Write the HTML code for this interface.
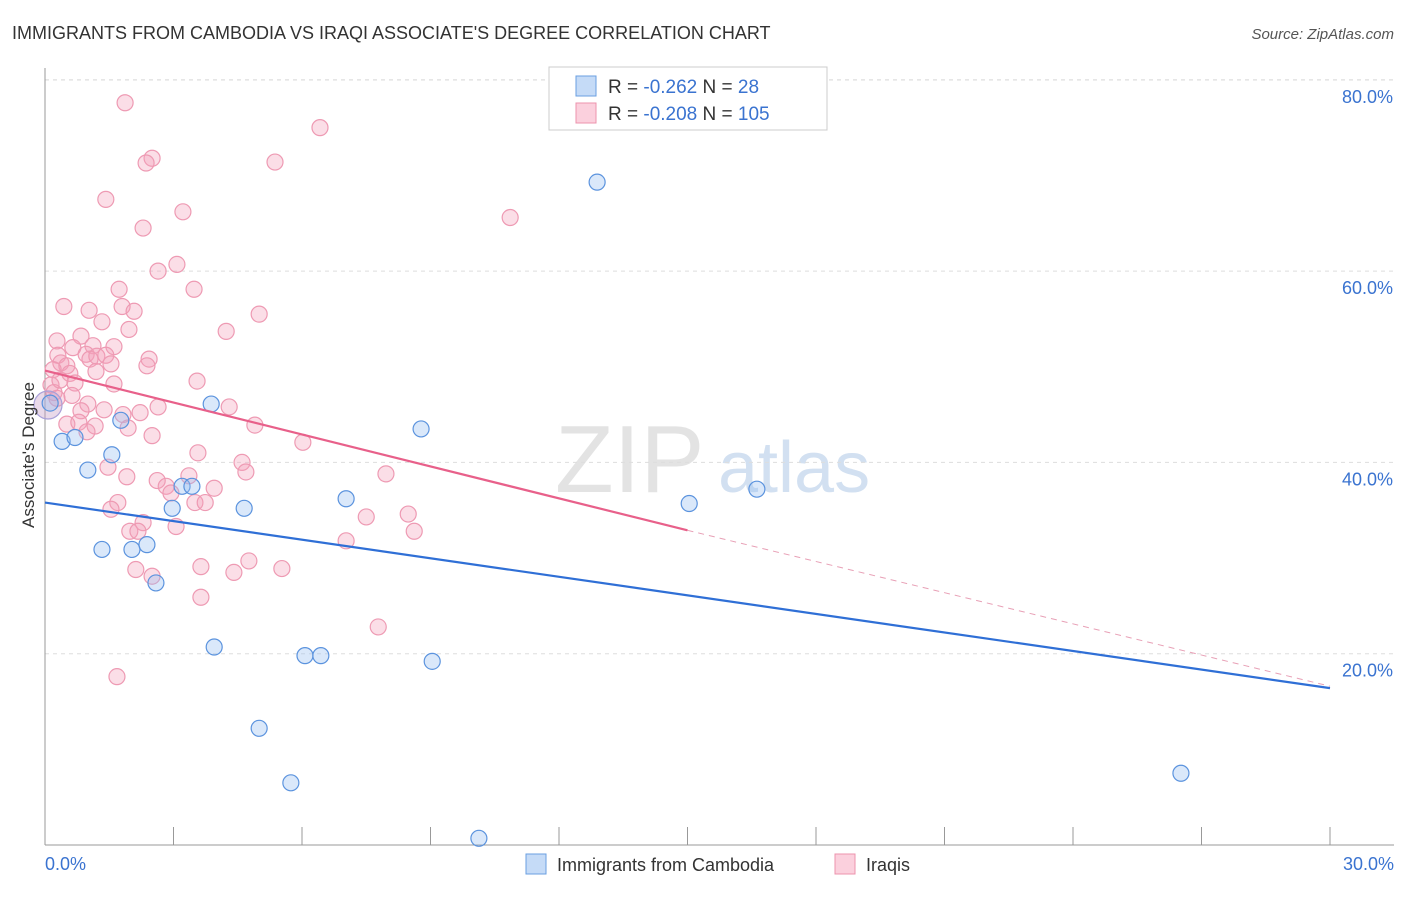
<!DOCTYPE html>
<html><head><meta charset="utf-8"><style>
body{margin:0;background:#fff;font-family:"Liberation Sans",sans-serif}
svg text{font-family:"Liberation Sans",sans-serif}
</style></head><body>
<svg id="chart" width="1406" height="892" viewBox="0 0 1406 892" xmlns="http://www.w3.org/2000/svg">
<text x="12" y="39" font-size="18" fill="#333">IMMIGRANTS FROM CAMBODIA VS IRAQI ASSOCIATE'S DEGREE CORRELATION CHART</text>
<text x="1394" y="39" font-size="15" fill="#555" text-anchor="end" font-style="italic">Source: ZipAtlas.com</text>
<text x="555" y="492" font-size="96" fill="#ddd" font-family="Liberation Serif" opacity="0.8">ZIP</text>
<text x="718" y="492" font-size="72" fill="#c8d9ee" opacity="0.8">atlas</text>
<g id="grid"></g><g id="axes"></g><g id="pink"></g><g id="blue"></g><g id="trends"></g>
<text transform="translate(34,455) rotate(-90)" font-size="17" fill="#333" text-anchor="middle">Associate's Degree</text>
<g>
<rect x="549" y="67" width="278" height="63" fill="#fff" stroke="#ccc"/>
<rect x="576" y="76" width="20" height="20" fill="#c5dbf7" stroke="#6a9fe0"/>
<rect x="576" y="103" width="20" height="20" fill="#fbd0dd" stroke="#ec93ad"/>
<text x="608" y="93" font-size="19" fill="#333">R = <tspan fill="#3a73d0">-0.262</tspan>   N = <tspan fill="#3a73d0">  28</tspan></text>
<text x="608" y="120" font-size="19" fill="#333">R = <tspan fill="#3a73d0">-0.208</tspan>   N = <tspan fill="#3a73d0">105</tspan></text>
</g>
<g>
<rect x="526" y="854" width="20" height="20" fill="#c5dbf7" stroke="#6a9fe0"/>
<text x="557" y="871" font-size="18" fill="#333">Immigrants from Cambodia</text>
<rect x="835" y="854" width="20" height="20" fill="#fbd0dd" stroke="#ec93ad"/>
<text x="866" y="871" font-size="18" fill="#333">Iraqis</text>
</g>
</svg>
<script>
const yTicks=[20,40,60,80];
const yTickLabels=["20.0%","40.0%","60.0%","80.0%"];
const xTicks=[0,3,6,9,12,15,18,21,24,27,30];
const blueX=[0.12,0.40,0.70,1.00,1.33,1.56,1.77,2.03,2.38,2.59,2.97,3.20,3.43,3.88,3.95,4.65,5.00,5.74,6.07,6.44,7.03,8.78,9.04,10.13,12.89,15.04,16.62,26.52];
const blueY=[46.2,42.2,42.6,39.2,30.9,40.8,44.4,30.9,31.4,27.4,35.2,37.5,37.5,46.1,20.7,35.2,12.2,6.5,19.8,19.8,36.2,43.5,19.2,0.7,69.3,35.7,37.2,7.5];
const pinkX=[1.87,2.50,2.36,5.37,6.42,1.42,3.22,2.29,10.86,3.08,2.64,3.48,1.73,0.44,1.03,1.80,2.08,5.00,1.33,1.96,4.23,0.28,0.84,0.65,1.12,1.61,0.30,0.37,0.51,0.96,1.05,1.21,1.42,1.54,2.43,2.38,0.19,0.58,1.19,3.55,0.70,1.61,0.14,0.21,1.00,0.84,1.38,1.82,2.22,2.64,4.30,0.51,0.79,1.17,0.98,1.94,2.50,4.90,6.02,3.57,4.60,1.47,4.69,7.96,1.91,2.62,2.83,3.36,3.95,2.94,3.50,3.74,1.70,1.54,3.06,7.50,8.48,2.29,1.98,2.17,8.62,7.03,4.76,2.12,3.64,5.53,4.41,2.50,3.64,7.78,1.68,0.28,0.35,0.63];
const pinkY=[77.6,71.8,71.3,71.4,75.0,67.5,66.2,64.5,65.6,60.7,60.0,58.1,58.1,56.3,55.9,56.3,55.8,55.5,54.7,53.9,53.7,52.7,53.2,52.0,52.2,52.1,51.2,50.4,50.1,51.3,50.8,51.1,51.2,50.3,50.8,50.1,49.7,49.3,49.5,48.5,48.3,48.2,48.1,47.3,46.1,45.4,45.5,45.0,45.2,45.8,45.8,44.0,44.2,43.8,43.2,43.6,42.8,43.9,42.1,41.0,40.0,39.5,39.0,38.8,38.5,38.1,37.5,38.6,37.3,36.8,35.8,35.8,35.8,35.1,33.3,34.3,34.6,33.7,32.8,32.8,32.8,31.8,29.7,28.8,29.1,28.9,28.5,28.1,25.9,22.8,17.6,46.7,48.6,47.0];
const blueTrend=[35.8,16.4];
const pinkTrend=[49.6,32.9,16.6];
const NS="http://www.w3.org/2000/svg";
const X=v=>45+v/30*1285, Y=v=>845-v/20*191.3;
function mk(p,t,a){const e=document.createElementNS(NS,t);for(const k in a)e.setAttribute(k,a[k]);document.getElementById(p).appendChild(e);return e;}
yTicks.forEach((t,i)=>{
 const l=mk('grid','line',{x1:45,x2:1394,y1:Y(t),y2:Y(t),stroke:'#ddd','stroke-dasharray':'4,4'});
 
 
 const tx=mk('grid','text',{x:1393,y:Y(t)+23,'font-size':18,fill:'#3a73d0','text-anchor':'end'});
 tx.textContent=yTickLabels[i];
 
 
});
const gl=mk('grid','line',{x1:45,x2:1394,y1:80,y2:80,stroke:'#ddd','stroke-dasharray':'4,4'});


const ya=mk('axes','line',{x1:45,x2:45,y1:68,y2:845,stroke:'#999'});


const xa=mk('axes','line',{x1:45,x2:1394,y1:845,y2:845,stroke:'#999'});


xTicks.forEach(t=>{const l=mk('axes','line',{x1:X(t),x2:X(t),y1:827,y2:845,stroke:'#999'});
 
 });
const x0=mk('axes','text',{x:45,y:870,'font-size':18,fill:'#3a73d0'});x0.textContent='0.0%';


const x1=mk('axes','text',{x:1394,y:870,'font-size':18,fill:'#3a73d0','text-anchor':'end'});x1.textContent='30.0%';


pinkX.forEach((v,i)=>{const c=mk('pink','circle',{cx:X(v),cy:Y(pinkY[i]),r:8,fill:'rgba(244,160,185,0.35)',stroke:'#ee9ab3','stroke-width':1.2});
 
 });
const big=mk('pink','circle',{cx:X(0.07),cy:Y(46),r:14,fill:'rgba(200,160,200,0.4)',stroke:'#a9a0d8','stroke-width':1.2});


blueX.forEach((v,i)=>{const c=mk('blue','circle',{cx:X(v),cy:Y(blueY[i]),r:8,fill:'rgba(150,190,240,0.35)',stroke:'#5b93de','stroke-width':1.2});
 
 });
const bt=mk('trends','line',{x1:X(0),y1:Y(blueTrend[0]),x2:X(30),y2:Y(blueTrend[1]),stroke:'#2f6fd6','stroke-width':2.2});


const pt=mk('trends','line',{x1:X(0),y1:Y(pinkTrend[0]),x2:X(15),y2:Y(pinkTrend[1]),stroke:'#e8608a','stroke-width':2.2});


const pd=mk('trends','line',{x1:X(15),y1:Y(pinkTrend[1]),x2:X(30),y2:Y(pinkTrend[2]),stroke:'#e8a0b6','stroke-width':1,'stroke-dasharray':'6,5'});


</script>
</body></html>
